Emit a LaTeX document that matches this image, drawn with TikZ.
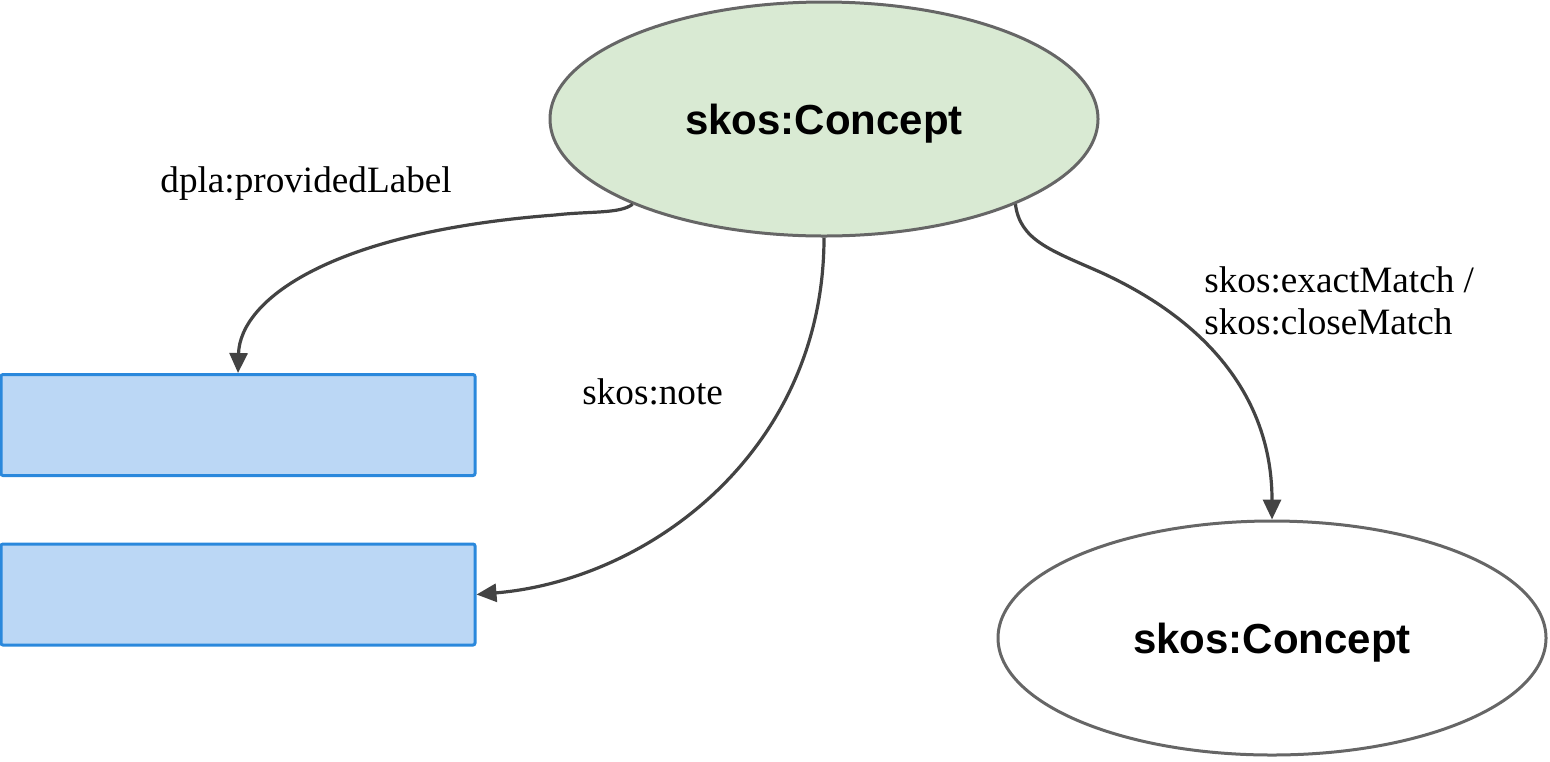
\documentclass[tikz,border=0pt]{standalone}
\usepackage{fontspec}
\setmainfont{Liberation Serif}
\setsansfont{Liberation Sans}
\usetikzlibrary{arrows.meta,shapes.geometric}
\definecolor{c0}{HTML}{D9EAD3}
\definecolor{c1}{HTML}{666666}
\definecolor{c2}{HTML}{434343}
\definecolor{c3}{HTML}{BBD7F5}
\definecolor{c4}{HTML}{2A88DC}
\tikzset{%
  concept/.style={ellipse,draw=c1,line width=1.5pt,fill=#1,inner sep=0pt,
    minimum width=274pt,minimum height=117pt,text depth=0pt,
    font=\sffamily\bfseries\fontsize{21}{25}\selectfont},
  concept/.default=white,
  slot/.style={rectangle,draw=c4,fill=c3,line width=1.5pt,rounded corners=1pt,
    minimum width=237pt,minimum height=50.5pt,inner sep=0pt},
  prop/.style={inner sep=0pt,align=left,font=\fontsize{18.6}{21}\selectfont},
  link/.style={c2,line width=1.6pt,-{Triangle[length=10pt,width=9pt]}}
}

\begin{document}
\begin{tikzpicture}[x=0.5pt,y=-0.5pt]
  \useasboundingbox (0,0) rectangle (1550,761);
  % Classes
  \node[concept=c0] (s0) at (824,119) {skos:Concept};
  \node[concept] (s1) at (1272,638) {skos:Concept};
  \node[slot] (r0) at (238,425) {};
  \node[slot] (r1) at (238,594.5) {};
  % Properties
  \node[prop,anchor=west] (l0) at (160,184) {dpla:providedLabel};
  \node[prop,anchor=west] (l1) at (582,392) {skos:note};
  \node[prop,anchor=west] (l2) at (1204,301) {skos:exactMatch /\\skos:closeMatch};
  \draw[link] (s0.204) .. controls (620,214) and (590,211) .. (555,215)
    .. controls (330,232) and (240,300) .. (r0.north);
  \draw[link] (s0.south) .. controls (824,450) and (650,580) .. (r1.east);
  \draw[link] (s0.336) .. controls (1020,240) and (1050,250) .. (1100,272)
    .. controls (1210,322) and (1272,400) .. (s1.north);
\end{tikzpicture}
\end{document}
